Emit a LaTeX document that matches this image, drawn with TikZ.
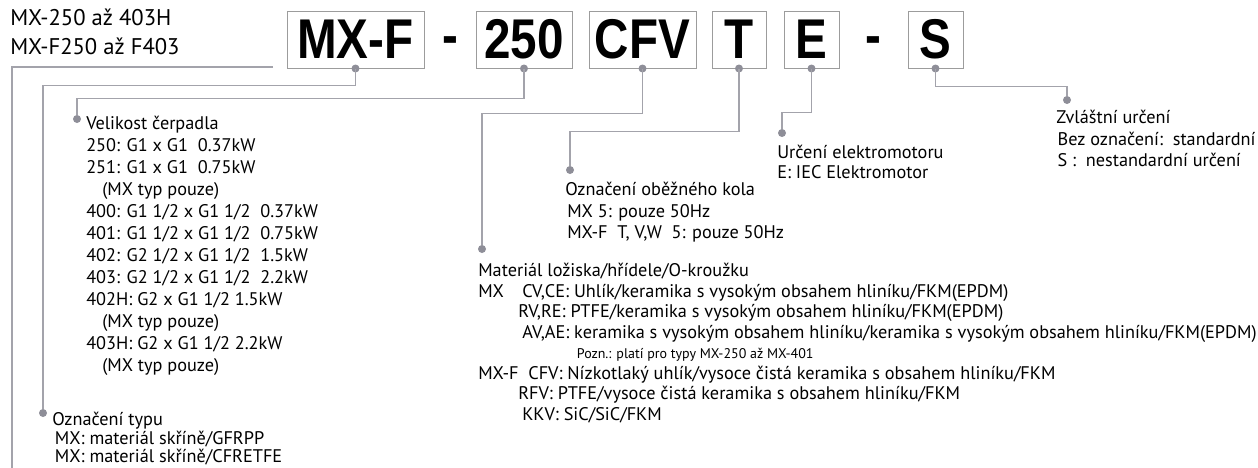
\documentclass[tikz,border=0pt]{standalone}
\usepackage{fontspec}
\setmainfont{PT Sans}
\newfontfamily\codefont{Liberation Sans}[FakeStretch=0.85]
\usetikzlibrary{positioning,calc}
\definecolor{wirecol}{HTML}{A3A3AB}
\definecolor{knobcol}{HTML}{8E8E98}
\definecolor{framecol}{HTML}{9C9C9C}

\begin{document}
\begin{tikzpicture}[x=0.75pt,y=-0.75pt,
  code/.style={draw=framecol,line width=0.75pt,inner sep=0pt,minimum height=42.75pt,font=\codefont\bfseries\fontsize{42}{42}\selectfont},
  joiner/.style={inner sep=0pt,font=\codefont\bfseries\fontsize{42}{42}\selectfont},
  wire/.style={draw=wirecol,line width=0.9pt},
  knob/.style={circle,fill=knobcol,inner sep=0pt,minimum size=6pt},
  note/.style={anchor=north west,align=left,inner sep=0pt,font=\fontsize{13.7}{16.2}\selectfont}]
\useasboundingbox (0,0) rectangle (1258,468);
% code boxes
\node[code,minimum width=102.75pt] (mxf) at (355.5,39.5) {MX-F};
\node[joiner] (j1) at (450,46) {-};
\node[code,minimum width=72pt] (c250) at (524,39.5) {250};
\node[code,minimum width=80.25pt] (ccfv) at (642.5,39.5) {CFV};
\node[code,minimum width=40.5pt] (ct) at (739,39.5) {T};
\node[code,minimum width=41.25pt] (ce) at (811.5,39.5) {E};
\node[joiner] (j2) at (873,46) {-};
\node[code,minimum width=41.25pt] (cs) at (935.5,39.5) {S};
\foreach \b in {mxf,c250,ccfv,ct,ce,cs}
  \node[knob] (k\b) at (\b.south) {};
% series
\node[note,font=\fontsize{17}{21.75}\selectfont] (series) at (10,9) {MX-250 až 403H\\MX-F250 až F403};
\coordinate (stail) at (273,67);
\coordinate (sfoot) at (12,468);
\draw[wire] (stail) -| (sfoot);
% end points
\node[knob] (ktyp) at (43,413) {};
\node[knob] (kvel) at (77,119) {};
\node[knob] (kmat) at (482,249) {};
\node[knob] (kkolo) at (570,170) {};
\node[knob] (kmot) at (782,133) {};
\node[knob] (kzvl) at (1067,100) {};
\draw[wire] (mxf.south) -- ++(0,17) -| (ktyp);
\draw[wire] (c250.south) -- ++(0,30) -| (kvel);
\draw[wire] (ccfv.south) -- ++(0,45) -| (kmat);
\draw[wire] (ct.south) -- ++(0,63) -| (kkolo);
\draw[wire] (ce.south) -- ++(0,44) -| (kmot);
\draw[wire] (cs.south) -- ++(0,18) -| (kzvl);
% texts
\node[note,font=\fontsize{13.7}{16.5}\selectfont] (vel) at (86,116) {Velikost čerpadla\\
 250: G1 x G1~~0.37kW\\
 251: G1 x G1~~0.75kW\\
 \hspace*{12pt}(MX typ pouze)\\
 400: G1 1/2 x G1 1/2~~0.37kW\\
 401: G1 1/2 x G1 1/2~~0.75kW\\
 402: G2 1/2 x G1 1/2~~1.5kW\\
 403: G2 1/2 x G1 1/2~~2.2kW\\
 402H: G2 x G1 1/2 1.5kW\\
 \hspace*{12pt}(MX typ pouze)\\
 403H: G2 x G1 1/2 2.2kW\\
 \hspace*{12pt}(MX typ pouze)};
\node[note,font=\fontsize{13.7}{14}\selectfont] (typ) at (52,412) {Označení typu\\
 \hspace*{2pt}MX: materiál skříně/GFRPP\\
 \hspace*{2pt}MX: materiál skříně/CFRETFE};
\node[note] (kolo) at (565,182) {Označení oběžného kola\\
 \hspace*{1.5pt}MX 5: pouze 50Hz\\
 \hspace*{1.5pt}MX-F~~T, V,W~~5: pouze 50Hz};
\node[note,font=\fontsize{13.7}{15.4}\selectfont] (mat) at (478,263) {Materiál ložiska/hřídele/O-kroužku\\
 \makebox[33pt][l]{MX}CV,CE: Uhlík/keramika s vysokým obsahem hliníku/FKM(EPDM)\\
 \hspace*{30pt}RV,RE: PTFE/keramika s vysokým obsahem hliníku/FKM(EPDM)\\
 \hspace*{33pt}AV,AE: keramika s vysokým obsahem hliníku/keramika s vysokým obsahem hliníku/FKM(EPDM)\\
 \hspace*{74pt}{\fontsize{10.5}{12}\selectfont Pozn.: platí pro typy MX-250 až MX-401}\\
 MX-F~~CFV: Nízkotlaký uhlík/vysoce čistá keramika s obsahem hliníku/FKM\\
 \hspace*{30pt}RFV: PTFE/vysoce čistá keramika s obsahem hliníku/FKM\\
 \hspace*{33pt}KKV: SiC/SiC/FKM};
\node[note,font=\fontsize{13.7}{15}\selectfont] (mot) at (777,145) {Určení elektromotoru\\
 E: IEC Elektromotor};
\node[note] (zvl) at (1056,110) {Zvláštní určení\\
 \hspace*{1pt}Bez označení:~~standardní\\
 \hspace*{1pt}S :~~nestandardní určení};
\end{tikzpicture}
\end{document}
